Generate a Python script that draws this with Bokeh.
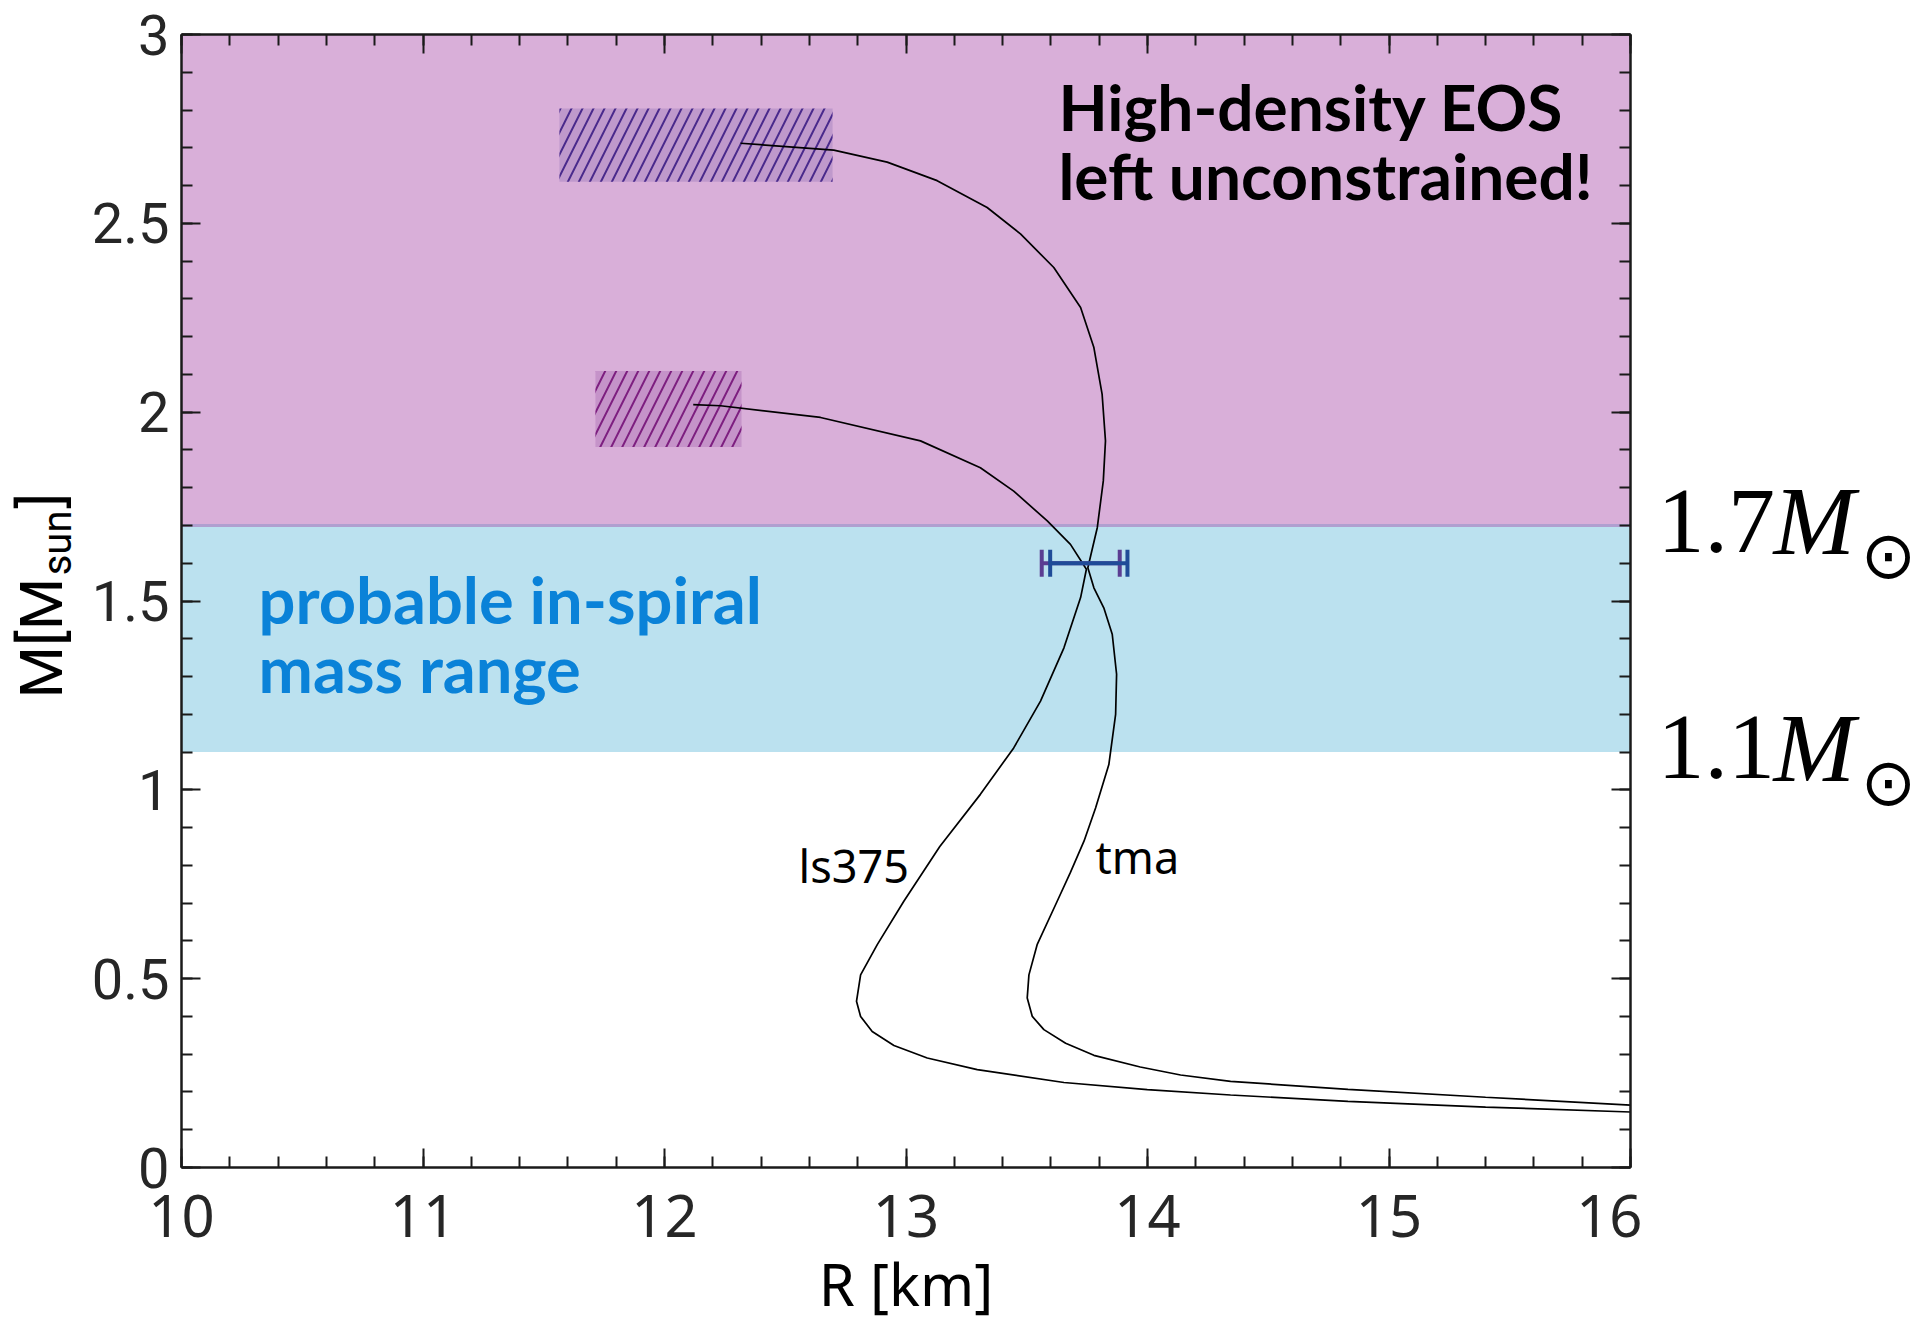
import math
from bokeh.plotting import figure
from bokeh.layouts import row
from bokeh.models import (Range1d, LinearAxis, SingleIntervalTicker, Label,
                          Whisker, TeeHead, ColumnDataSource)
from bokeh.embed import file_html
from bokeh.resources import INLINE
from bokeh.core.properties import value

# ---------------- data ----------------
tma_R = [12.315, 12.701, 12.922, 13.129, 13.336, 13.474, 13.612, 13.723, 13.778, 13.812,
         13.826, 13.817, 13.792, 13.753, 13.778, 13.819, 13.854, 13.872, 13.868, 13.840,
         13.785, 13.737, 13.68, 13.626, 13.543, 13.509, 13.502, 13.523, 13.571, 13.661,
         13.778, 13.970, 14.137, 14.344, 14.83, 15.4, 16.0]
tma_M = [2.712, 2.694, 2.662, 2.613, 2.542, 2.472, 2.383, 2.277, 2.171, 2.048,
         1.924, 1.818, 1.694, 1.588, 1.535, 1.482, 1.412, 1.306, 1.200, 1.067,
         0.952, 0.864, 0.78, 0.705, 0.590, 0.510, 0.449, 0.400, 0.365, 0.329,
         0.297, 0.266, 0.245, 0.228, 0.207, 0.186, 0.165]

ls375_R = [12.119, 12.232, 12.646, 13.060, 13.308, 13.446, 13.585, 13.681, 13.747, 13.723,
           13.654, 13.557, 13.446, 13.308, 13.14, 12.991, 12.881, 12.812, 12.795, 12.812,
           12.860, 12.950, 13.088, 13.295, 13.654, 13.999, 14.344, 14.83, 15.4, 16.0]
ls375_M = [2.020, 2.017, 1.986, 1.924, 1.853, 1.791, 1.712, 1.650, 1.584, 1.509,
           1.376, 1.235, 1.111, 0.988, 0.85, 0.705, 0.590, 0.510, 0.440, 0.400,
           0.360, 0.323, 0.290, 0.259, 0.225, 0.206, 0.192, 0.175, 0.160, 0.147]

# constraint boxes (tma at ~2.7, ls375 at ~2.0)
box_R_lo = [11.565, 11.714]
box_R_hi = [12.696, 12.319]
box_M_lo = [2.610, 1.908]
box_M_hi = [2.804, 2.109]

# mass bands
band_lo = [1.7, 1.1]
band_hi = [3.0, 1.7]

# radius measurement error bars at M = 1.6
err_M = [1.6]
err_purple_lo = [13.562]
err_purple_hi = [13.885]
err_blue_lo = [13.597]
err_blue_hi = [13.917]

marker_masses = [1.7, 1.1]
x_ticks_interval = 1
y_ticks_interval = 0.5

# ---------------- layout constants ----------------
W, H = 1922, 1326
LEFT_W, RIGHT_W = 80, 280
TOP = 34
FRAME_BOTTOM = 1167
BOTTOM = H - FRAME_BOTTOM
PX_PER_M = (FRAME_BOTTOM - TOP) / 3.0
BASE_FIX = 0.40  # baseline correction (em)


def fix(fs):
    return BASE_FIX * fs / PX_PER_M


FONT = "Noto Sans"
LBL = "Roboto"
BOLD = "Lato"
SERIF = "Liberation Serif"

# ---------------- main figure ----------------
p = figure(width=W - LEFT_W - RIGHT_W, height=H, output_backend="svg",
           toolbar_location=None, x_range=Range1d(10, 16), y_range=Range1d(0, 3),
           min_border_left=181 - LEFT_W, min_border_right=12, min_border_top=TOP,
           min_border_bottom=BOTTOM, background_fill_color="white",
           border_fill_color="white")
p.outline_line_color = None
p.grid.visible = False

# bands
p.quad(left=10, right=16, bottom=band_lo[0], top=band_hi[0], fill_color="#d9afd9", line_color=None)
p.quad(left=10, right=16, bottom=band_lo[1], top=band_hi[1], fill_color="#bbe1ef", line_color=None)
p.segment(x0=10, x1=16, y0=band_lo[0], y1=band_lo[0], line_color="#b09fd0", line_width=3)

# hatched boxes
p.quad(left=box_R_lo[0], right=box_R_hi[0], bottom=box_M_lo[0], top=box_M_hi[0],
       fill_color="#bf99cc", line_color=None, hatch_pattern="/", hatch_color="#4a2a8c",
       hatch_scale=22, hatch_weight=2)
p.quad(left=box_R_lo[1], right=box_R_hi[1], bottom=box_M_lo[1], top=box_M_hi[1],
       fill_color="#c593c9", line_color=None, hatch_pattern="/", hatch_color="#7d1f80",
       hatch_scale=22, hatch_weight=2)

# curves
p.line(tma_R, tma_M, line_color="black", line_width=1.7)
p.line(ls375_R, ls375_M, line_color="black", line_width=1.7)

# error bars
src_p = ColumnDataSource(dict(base=err_M, lower=err_purple_lo, upper=err_purple_hi))
src_b = ColumnDataSource(dict(base=err_M, lower=err_blue_lo, upper=err_blue_hi))
for src, col in ((src_p, "#5b3d92"), (src_b, "#1f4b98")):
    w = Whisker(base="base", lower="lower", upper="upper", dimension="width", source=src,
                line_color=col, line_width=4, level="overlay",
                lower_head=TeeHead(size=27, line_color=col, line_width=4),
                upper_head=TeeHead(size=27, line_color=col, line_width=4))
    p.add_layout(w)

# ---------------- axes ----------------
def style_axis(ax):
    ax.major_tick_in = 19
    ax.major_tick_out = 0
    ax.minor_tick_in = 11
    ax.minor_tick_out = 0
    ax.axis_line_width = 2.5
    ax.axis_line_color = "#1a1a1a"
    ax.major_tick_line_color = "#1a1a1a"
    ax.minor_tick_line_color = "#1a1a1a"
    ax.major_tick_line_width = 2
    ax.minor_tick_line_width = 2


for ax in (p.xaxis[0], p.yaxis[0]):
    style_axis(ax)
    ax.major_label_text_color = "#262626"

p.xaxis[0].major_label_text_font = FONT
p.xaxis[0].major_label_text_font_size = "58px"
p.yaxis[0].major_label_text_font = LBL
p.yaxis[0].major_label_text_font_size = "56px"

p.xaxis[0].ticker = SingleIntervalTicker(interval=x_ticks_interval, num_minor_ticks=5)
p.yaxis[0].ticker = SingleIntervalTicker(interval=y_ticks_interval, num_minor_ticks=5)
p.xaxis[0].major_label_standoff = 27
p.yaxis[0].major_label_standoff = 12
p.xaxis[0].axis_label = "R [km]"
p.xaxis[0].axis_label_text_font = FONT
p.xaxis[0].axis_label_text_font_size = "58px"
p.xaxis[0].axis_label_text_font_style = "normal"
p.xaxis[0].axis_label_text_color = "black"
p.xaxis[0].axis_label_standoff = 4

for loc, interval in (("above", x_ticks_interval), ("right", y_ticks_interval)):
    ax = LinearAxis(ticker=SingleIntervalTicker(interval=interval, num_minor_ticks=5))
    style_axis(ax)
    ax.major_label_text_font_size = "0px"
    ax.major_label_text_color = None
    ax.major_label_standoff = 0
    p.add_layout(ax, loc)

# ---------------- annotations in plot ----------------
def lab(x, y, text, font, fs, color, style="normal"):
    p.add_layout(Label(x=x, y=y + fix(fs), text=text, text_font=font, text_font_style=style,
                       text_font_size=f"{fs}px", text_color=color,
                       text_baseline="alphabetic"))


lab(13.631, 2.742, "High-density EOS", BOLD, 64, "black", "bold")
lab(13.631, 2.560, "left unconstrained!", BOLD, 64, "black", "bold")
lab(10.319, 1.436, "probable in-spiral", BOLD, 65, "#0a82d8", "bold")
lab(10.319, 1.253, "mass range", BOLD, 65, "#0a82d8", "bold")
lab(12.555, 0.753, "ls375", FONT, 45, "black")
lab(13.785, 0.775, "tma", FONT, 45, "black")


# ---------------- side strips ----------------
def side_fig(width):
    f = figure(width=width, height=H, output_backend="svg", toolbar_location=None,
               x_range=Range1d(0, width), y_range=p.y_range,
               x_axis_type=None, y_axis_type=None,
               min_border_left=0, min_border_right=0, min_border_top=TOP,
               min_border_bottom=BOTTOM, background_fill_color="white",
               border_fill_color="white")
    f.outline_line_color = None
    f.grid.visible = False
    return f


# left strip: y-axis title M[M_sun]
left = side_fig(LEFT_W)
ang = math.pi / 2
left.text(x=[65 - BASE_FIX * 60], y=[1.242], text=["M[M"], angle=ang,
          text_font=value(LBL), text_font_size="60px", text_color="black",
          text_align="left", text_baseline="alphabetic")
left.text(x=[73 - BASE_FIX * 40], y=[1.568], text=["sun"], angle=ang,
          text_font=value(LBL), text_font_size="40px", text_color="black",
          text_align="left", text_baseline="alphabetic")
left.text(x=[65 - BASE_FIX * 60], y=[1.745], text=["]"], angle=ang,
          text_font=value(LBL), text_font_size="60px", text_color="black",
          text_align="left", text_baseline="alphabetic")

# right strip: 1.7 M_sun, 1.1 M_sun
right = side_fig(RIGHT_W)
base_off = (558 - 524.5) / PX_PER_M        # digit baseline below the mass level
sym_off = (581 - 524.5) / PX_PER_M
nums = [f"{m:.1f}" for m in marker_masses]
yb = [m - base_off + fix(94) for m in marker_masses]
ys = [m - sym_off + fix(66) for m in marker_masses]
right.text(x=[15, 15], y=yb, text=nums, text_font=value(SERIF), text_font_size="94px",
           text_color="black", text_align="left", text_baseline="alphabetic")
right.text(x=[131, 131], y=yb, text=["M", "M"], text_font=value(SERIF),
           text_font_style="italic", text_font_size="98px",
           text_color="black", text_align="left", text_baseline="alphabetic")
right.text(x=[246, 246], y=ys, text=["\u2299", "\u2299"], text_font=value("DejaVu Sans"),
           text_font_size="66px", text_color="black", text_align="center",
           text_baseline="alphabetic")

layout = row(left, p, right, spacing=0)
open("out.html", "w").write(file_html(layout, INLINE))
